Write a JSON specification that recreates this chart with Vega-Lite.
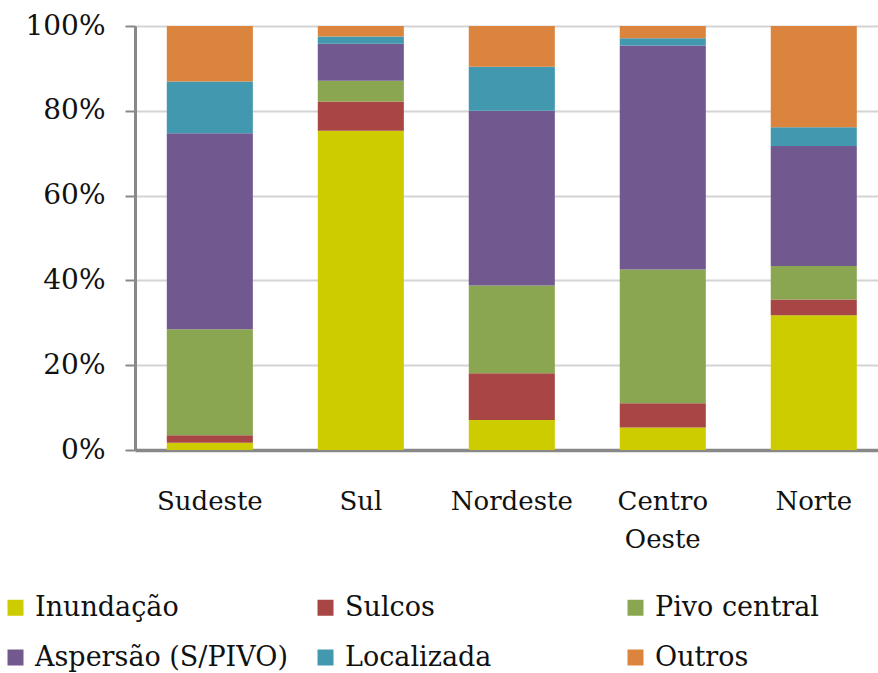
{
  "$schema": "https://vega.github.io/schema/vega-lite/v6.json",
  "autosize": "none",
  "width": 743,
  "height": 424,
  "padding": {"left": 135, "top": 26, "right": 0, "bottom": 223},
  "background": "white",
  "config": {
    "font": "DejaVu Serif",
    "axis": {"labelFont": "DejaVu Serif"},
    "legend": {"labelFont": "DejaVu Serif"},
    "view": {"stroke": null}
  },
  "data": {
    "values": [
      {"regiao": "Sudeste", "tipo": "Inundação", "valor": 1.7},
      {"regiao": "Sudeste", "tipo": "Sulcos", "valor": 1.8},
      {"regiao": "Sudeste", "tipo": "Pivo central", "valor": 25.0},
      {"regiao": "Sudeste", "tipo": "Aspersão (S/PIVO)", "valor": 46.2},
      {"regiao": "Sudeste", "tipo": "Localizada", "valor": 12.2},
      {"regiao": "Sudeste", "tipo": "Outros", "valor": 13.1},
      {"regiao": "Sul", "tipo": "Inundação", "valor": 75.3},
      {"regiao": "Sul", "tipo": "Sulcos", "valor": 6.9},
      {"regiao": "Sul", "tipo": "Pivo central", "valor": 4.9},
      {"regiao": "Sul", "tipo": "Aspersão (S/PIVO)", "valor": 8.7},
      {"regiao": "Sul", "tipo": "Localizada", "valor": 1.7},
      {"regiao": "Sul", "tipo": "Outros", "valor": 2.5},
      {"regiao": "Nordeste", "tipo": "Inundação", "valor": 7.1},
      {"regiao": "Nordeste", "tipo": "Sulcos", "valor": 11.0},
      {"regiao": "Nordeste", "tipo": "Pivo central", "valor": 20.7},
      {"regiao": "Nordeste", "tipo": "Aspersão (S/PIVO)", "valor": 41.2},
      {"regiao": "Nordeste", "tipo": "Localizada", "valor": 10.4},
      {"regiao": "Nordeste", "tipo": "Outros", "valor": 9.6},
      {"regiao": "Centro Oeste", "tipo": "Inundação", "valor": 5.3},
      {"regiao": "Centro Oeste", "tipo": "Sulcos", "valor": 5.7},
      {"regiao": "Centro Oeste", "tipo": "Pivo central", "valor": 31.6},
      {"regiao": "Centro Oeste", "tipo": "Aspersão (S/PIVO)", "valor": 52.8},
      {"regiao": "Centro Oeste", "tipo": "Localizada", "valor": 1.7},
      {"regiao": "Centro Oeste", "tipo": "Outros", "valor": 2.9},
      {"regiao": "Norte", "tipo": "Inundação", "valor": 31.8},
      {"regiao": "Norte", "tipo": "Sulcos", "valor": 3.7},
      {"regiao": "Norte", "tipo": "Pivo central", "valor": 7.9},
      {"regiao": "Norte", "tipo": "Aspersão (S/PIVO)", "valor": 28.3},
      {"regiao": "Norte", "tipo": "Localizada", "valor": 4.4},
      {"regiao": "Norte", "tipo": "Outros", "valor": 23.9}
    ]
  },
  "transform": [
    {"calculate": "indexof(['Inundação','Sulcos','Pivo central','Aspersão (S/PIVO)','Localizada','Outros'], datum.tipo)", "as": "ordem"}
  ],
  "mark": {"type": "bar"},
  "encoding": {
    "x": {
      "field": "regiao",
      "type": "nominal",
      "sort": ["Sudeste", "Sul", "Nordeste", "Centro Oeste", "Norte"],
      "scale": {"paddingInner": 0.43, "paddingOuter": 0.1755, "align": 0.6},
      "axis": {
        "title": null,
        "labelAngle": 0,
        "labelFontSize": 26,
        "labelColor": "#111111",
        "labelPadding": 38,
        "labelBaseline": "top",
        "labelLineHeight": 38,
        "labelExpr": "datum.value == 'Centro Oeste' ? ['Centro', 'Oeste'] : datum.value",
        "ticks": false,
        "domainColor": "#888888",
        "domainWidth": 3.5,
        "grid": false
      }
    },
    "y": {
      "field": "valor",
      "type": "quantitative",
      "stack": "normalize",
      "scale": {"domain": [0, 1], "nice": false},
      "axis": {
        "title": null,
        "values": [0, 0.2, 0.4, 0.6, 0.8, 1],
        "format": ".0%",
        "labelFontSize": 28,
        "labelColor": "#111111",
        "labelPadding": 20,
        "tickSize": 10,
        "tickColor": "#888888",
        "tickWidth": 2,
        "domainColor": "#888888",
        "domainWidth": 3,
        "grid": true,
        "gridColor": "#d4d4d4",
        "gridWidth": 2
      }
    },
    "color": {
      "field": "tipo",
      "type": "nominal",
      "scale": {
        "domain": ["Inundação", "Sulcos", "Pivo central", "Aspersão (S/PIVO)", "Localizada", "Outros"],
        "range": ["#CCCC00", "#A84545", "#8BA650", "#71588F", "#4198AF", "#DB843D"]
      },
      "legend": {
        "title": null,
        "orient": "none",
        "legendX": -133,
        "legendY": 568,
        "direction": "horizontal",
        "columns": 3,
        "gridAlign": "all",
        "columnPadding": 24,
        "rowPadding": 22,
        "symbolType": "square",
        "symbolSize": 256,
        "symbolStrokeWidth": 0,
        "labelFontSize": 27,
        "labelColor": "#111111",
        "labelOffset": 6,
        "labelLimit": 400
      }
    },
    "order": {"field": "ordem", "type": "quantitative"}
  }
}
